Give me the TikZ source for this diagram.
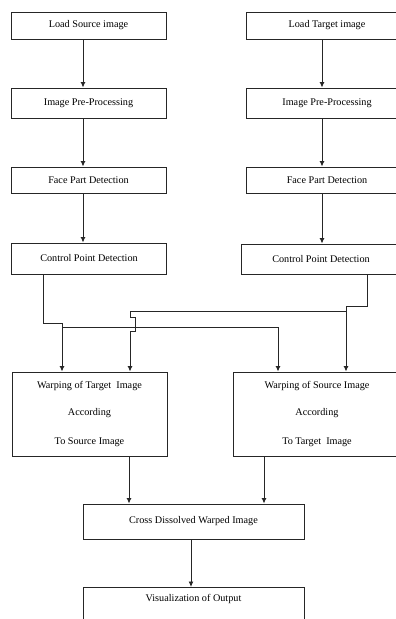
\documentclass[tikz,border=0pt]{standalone}
\usepackage{fontspec}
\setmainfont{Liberation Serif}
\usetikzlibrary{arrows.meta,calc}
\begin{document}
\begin{tikzpicture}[x=1pt,y=-1pt,
  box/.style={draw=black!85,line width=0.9pt,rectangle,inner sep=0pt,font=\fontsize{10.2}{12}\selectfont},
  wbox/.style={box,align=center,font=\fontsize{10.2}{29}\selectfont},
  ln/.style={draw=black!85,line width=0.9pt},
  arr/.style={ln,-{Latex[length=5.5pt,width=5pt]}}]
\useasboundingbox (0,0) rectangle (396,619);
\clip (0,0) rectangle (396,619);
% left column
\node[box,minimum width=155,minimum height=27] (l1) at (88.5,25.5) {Load Source image};
\node[box,minimum width=155,minimum height=30] (l2) at (88.5,103) {Image Pre-Processing};
\node[box,minimum width=155,minimum height=26] (l3) at (88.5,180) {Face Part Detection};
\node[box,minimum width=155,minimum height=31] (l4) at (89,258.5) {Control Point Detection};
% right column
\node[box,minimum width=162,minimum height=27] (r1) at (327,25.5) {Load Target image};
\node[box,minimum width=162,minimum height=30] (r2) at (327,103) {Image Pre-Processing};
\node[box,minimum width=162,minimum height=26] (r3) at (327,180) {Face Part Detection};
\node[box,minimum width=160,minimum height=30] (r4) at (321,259) {Control Point Detection};
% warping
\node[wbox,minimum width=155,minimum height=84] (wl) at (89.5,414) {\raisebox{-2pt}{Warping of Target\ \ Image}\\According\\To Source Image};
\node[wbox,minimum width=168,minimum height=84] (wr) at (317,414) {\raisebox{-2pt}{Warping of Source Image}\\According\\To Target\ \ Image};
% bottom
\node[box,minimum width=221,minimum height=35] (cr) at (193.5,521.5) {Cross Dissolved Warped Image};
\node[box,anchor=north,minimum width=221,text height=11pt,text depth=34pt,inner ysep=3pt] (vis) at (193.5,587) {Visualization of Output};
% column x positions
\coordinate (lx) at (83,0);
\coordinate (rx) at (322,0);
\draw[arr] (l1.south -| lx) -- (l2.north -| lx);
\draw[arr] (l2.south -| lx) -- (l3.north -| lx);
\draw[arr] (l3.south -| lx) -- (l4.north -| lx);
\draw[arr] (r1.south -| rx) -- (r2.north -| rx);
\draw[arr] (r2.south -| rx) -- (r3.north -| rx);
\draw[arr] (r3.south -| rx) -- (r4.north -| rx);
% cross connections
\coordinate (a0) at (43,0);
\coordinate (a1) at (43,323);
\coordinate (a2) at (62,323);
\coordinate (a3) at (62,327);
\coordinate (a4) at (278,327);
\draw[arr] (l4.south -| a0) -- (a1) -- (a2) -- (wl.north -| a2);
\draw[arr] (a3) -- (a4) -- (wr.north -| a4);
\coordinate (b0) at (367,0);
\coordinate (b1) at (367,306);
\coordinate (b2) at (346,306);
\coordinate (b3) at (346,311);
\coordinate (b4) at (130,311);
\coordinate (b5) at (130,317);
\coordinate (b6) at (135,317);
\coordinate (b7) at (135,331);
\coordinate (b8) at (130,331);
\draw[arr] (r4.south -| b0) -- (b1) -- (b2) -- (wr.north -| b2);
\draw[arr] (b3) -- (b4) -- (b5) -- (b6) -- (b7) -- (b8) -- (wl.north -| b8);
% to cross dissolve
\coordinate (c1) at (129,0);
\coordinate (c2) at (264,0);
\coordinate (c3) at (191,0);
\draw[arr] (wl.south -| c1) -- (cr.north -| c1);
\draw[arr] (wr.south -| c2) -- (cr.north -| c2);
\draw[arr] (cr.south -| c3) -- (vis.north -| c3);
\end{tikzpicture}
\end{document}
